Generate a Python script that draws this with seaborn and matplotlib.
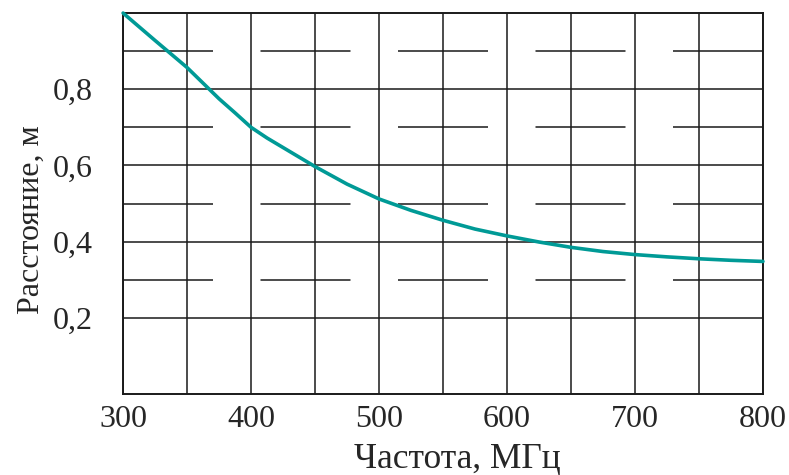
import numpy as np
import pandas as pd
import matplotlib
matplotlib.use("Agg")
import matplotlib.pyplot as plt
import seaborn as sns
from matplotlib.ticker import FuncFormatter, MultipleLocator, FixedLocator

# значения
freq = [300, 325, 350, 375, 387.5, 400, 412.5, 425, 450, 475, 500, 525, 550,
        575, 600, 625, 650, 675, 700, 725, 750, 775, 800]
dist = [1.000, 0.928, 0.857, 0.775, 0.738, 0.700, 0.672, 0.647, 0.597, 0.551, 0.512,
        0.482, 0.456, 0.433, 0.415, 0.399, 0.385, 0.374, 0.366, 0.360, 0.355, 0.351, 0.348]
x_ticks = [300, 400, 500, 600, 700, 800]
y_ticks = [0.2, 0.4, 0.6, 0.8]
y_half = [0.3, 0.5, 0.7, 0.9]

df = pd.DataFrame({"Частота": freq, "Расстояние": dist})

sns.set_style("white")
plt.rcParams['font.family'] = ['Liberation Serif', 'DejaVu Serif']

fig = plt.figure(figsize=(7.89, 4.75), dpi=100)
ax = fig.add_axes([0.156, 0.1705, 0.811, 0.802])

grid_col = "#1a1a1a"
lw = 1.1

ax.set_xlim(300, 800)
ax.set_ylim(0, 1.0)
ax.xaxis.set_major_locator(FixedLocator(x_ticks))
ax.xaxis.set_minor_locator(MultipleLocator(50))
ax.yaxis.set_major_locator(FixedLocator(y_ticks))
ax.yaxis.set_minor_locator(FixedLocator(y_half))

ax.grid(which="both", axis="x", color=grid_col, linewidth=lw)
ax.grid(which="major", axis="y", color=grid_col, linewidth=lw)
ax.grid(which="minor", axis="y", color=grid_col, linewidth=lw,
        linestyle=(0, (64.8 / lw, 34.2 / lw)))
ax.set_axisbelow(True)

sns.lineplot(data=df, x="Частота", y="Расстояние", ax=ax, color="#009a96",
             linewidth=2.6, clip_on=False, zorder=5)

for s in ax.spines.values():
    s.set_color(grid_col)
    s.set_linewidth(1.4)
    s.set_visible(True)

ax.tick_params(which="both", length=0)
ax.tick_params(axis="x", labelsize=23, pad=8)
ax.tick_params(axis="y", labelsize=23, pad=22)
ax.yaxis.set_major_formatter(FuncFormatter(lambda v, p: f"{v:.1f}".replace(".", ",")))
ax.xaxis.set_major_formatter(FuncFormatter(lambda v, p: f"{v:.0f}"))

ax.set_xlabel("Частота, МГц", fontsize=25.5)
ax.set_ylabel("Расстояние, м", fontsize=23)
ax.xaxis.set_label_coords(0.523, -0.128)
ax.yaxis.set_label_coords(-0.12, 0.457)

fig.savefig("out.png", dpi=100)
